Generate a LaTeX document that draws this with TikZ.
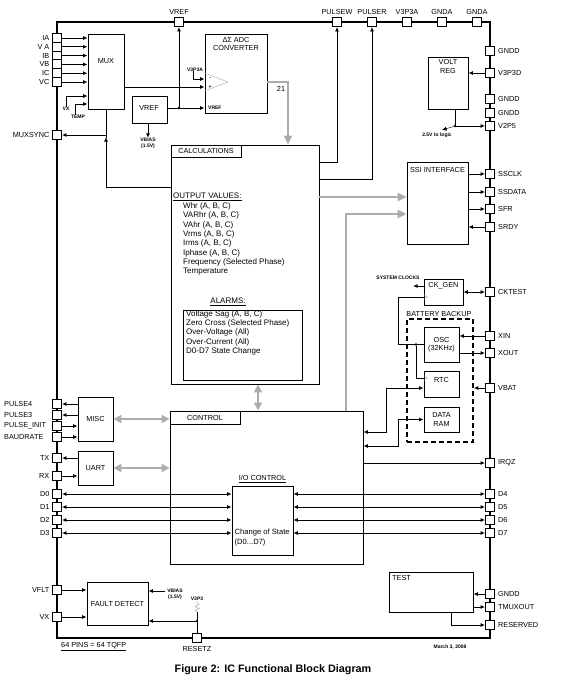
\documentclass[tikz,border=0pt]{standalone}
\usepackage{fontspec}
\setmainfont{Liberation Sans}
\usetikzlibrary{arrows.meta}

\tikzset{
  pinbox/.style={draw, fill=white, line width=0.9pt, inner sep=0pt, minimum size=9pt},
  plbl/.style={font=\fontsize{7.3}{8.5}\selectfont, inner sep=0pt},
  blk/.style={draw, line width=0.9pt, inner sep=0pt},
  btxt/.style={font=\fontsize{7.3}{8.5}\selectfont, inner sep=0pt, align=center},
  ctxt/.style={font=\fontsize{8}{9.3}\selectfont, inner sep=0pt, anchor=west},
  smalltxt/.style={font=\fontsize{5}{6.5}\selectfont\bfseries, inner sep=0pt, align=center},
  wire/.style={line width=0.9pt},
  sig/.style={line width=0.9pt, -{Latex[length=4.5pt,width=4pt]}},
  dbl/.style={line width=0.9pt, {Latex[length=4.5pt,width=4pt]}-{Latex[length=4.5pt,width=4pt]}},
  garrow/.style={draw=gray!65, line width=2.6pt, -{Triangle[length=9pt,width=8pt]}},
  gdbl/.style={draw=gray!65, line width=2.6pt, {Triangle[length=8pt,width=8pt]}-{Triangle[length=8pt,width=8pt]}},
  jdot/.style={circle, fill, inner sep=0pt, minimum size=2.6pt},
}

\begin{document}
\begin{tikzpicture}[x=1pt,y=-1pt]
\useasboundingbox (0,0) rectangle (571,680);

% chip outline and pins
\draw[line width=2.8pt] (57,22) rectangle (490,638);

\foreach \n/\t/\y in {IA/IA/38, VA/V A/46.8, IB/IB/55.6, VB/VB/64.4, IC/IC/73.2, VC/VC/82,
    MUXSYNC/MUXSYNC/135, TX/TX/458, RX/RX/476, D0/D0/494, D1/D1/507, D2/D2/520, D3/D3/533,
    VFLT/VFLT/590, VXp/VX/617}{
  \node[pinbox] (p\n) at (57,\y) {};
  \node[plbl, anchor=east] (t\n) at ([xshift=-2.5pt]p\n.west) {\t};
}
\foreach \n/\t/\y in {PULSE4/PULSE4/404, PULSE3/PULSE3/415, PULSEINIT/PULSE\_INIT/426, BAUDRATE/BAUDRATE/437}{
  \node[pinbox] (p\n) at (57,\y) {};
  \node[plbl, anchor=west] (t\n) at (4,\y) {\t};
}
\foreach \n/\t/\y in {GNDDa/GNDD/51, V3P3D/V3P3D/73, GNDDb/GNDD/99, GNDDc/GNDD/113, V2P5/V2P5/126,
    SSCLK/SSCLK/174, SSDATA/SSDATA/192, SFR/SFR/209, SRDY/SRDY/227, CKTEST/CKTEST/292,
    XIN/XIN/336, XOUT/XOUT/353, VBAT/VBAT/388, IRQZ/IRQZ/463, D4/D4/494, D5/D5/507,
    D6/D6/520, D7/D7/533, GNDDd/GNDD/594, TMUXOUT/TMUXOUT/607, RESERVED/RESERVED/625}{
  \node[pinbox] (p\n) at (490,\y) {};
  \node[plbl, anchor=west] (t\n) at ([xshift=3pt]p\n.east) {\t};
}
\foreach \n/\t/\x in {VREF/VREF/179, PULSEW/PULSEW/337, PULSER/PULSER/372, V3P3A/V3P3A/407,
    GNDAa/GNDA/442, GNDAb/GNDA/477}{
  \node[pinbox] (p\n) at (\x,22) {};
  \node[plbl, anchor=south] (t\n) at ([yshift=2pt]p\n.north) {\t};
}
\node[pinbox] (pRESETZ) at (197,638) {};
\node[plbl, anchor=north] (tRESETZ) at ([yshift=-3pt]pRESETZ.south) {RESETZ};

% mux, vref, adc
\node[blk, minimum width=36pt, minimum height=75pt] (mux) at (106,71.5) {};
\node[btxt] (tmux) at (106,61) {MUX};
\node[blk, minimum width=35pt, minimum height=27pt] (vref) at (149.5,109.5) {};
\node[btxt] (tvref) at (149,108) {VREF};
\node[blk, minimum width=62pt, minimum height=79pt] (adc) at (236,73.5) {};
\node[btxt] (tadc) at (236,44) {ΔΣ ADC\\CONVERTER};
\draw[gray!60, line width=0.5pt] (adc.west |- 0,73) -- (228,82) -- (adc.west |- 0,91);
\node[smalltxt] (tminus) at (210,79) {-};
\node[smalltxt] (tplus) at (210,87) {+};
\node[smalltxt, anchor=west] (tadcvref) at (208,108) {VREF};
\node[smalltxt] (tv3p3a) at (195,69.5) {V3P3A};

\foreach \n in {IA,VA,IB,VB,IC,VC}
  \draw[sig] (p\n.east) -- (mux.west |- p\n);
\node[smalltxt] (tVX) at (66,109) {VX};
\node[smalltxt] (tTEMP) at (78,117) {TEMP};
\draw[sig] (tVX.north) |- (mux.west |- 0,96);
\draw[sig] ([xshift=-3pt]tTEMP.north) |- (mux.west |- 0,104);
\draw[sig] (mux.east |- 0,87) -- (adc.west |- 0,87);
\draw[sig] ([xshift=-2pt]tv3p3a.south) |- (adc.west |- 0,79);
\node[jdot] (j1) at (pVREF |- 0,108) {};
\draw[sig] (vref.east |- 0,108) -- (adc.west |- 0,108);
\draw[sig] (j1) -- (pVREF.south);
\node[smalltxt] (tvbias) at (148,143.5) {VBIAS\\(1.5V)};
\draw[sig] (tvbias.north |- vref.south) -- (tvbias.north);

% calculations
\node[blk, minimum width=148pt, minimum height=239pt] (calc) at (245,264.5) {};
\node[blk, btxt, minimum width=70pt, minimum height=12pt, anchor=north west] (calctab) at (calc.north west) {CALCULATIONS};
\node[ctxt] (tov) at (173,197) {\underline{OUTPUT VALUES:}};
\foreach \t [count=\i] in {{Whr (A, B, C)}, {VARhr (A, B, C)}, {VAhr (A, B, C)}, {Vrms (A, B, C)},
    {Irms (A, B, C)}, {Iphase (A, B, C)}, {Frequency (Selected Phase)}, {Temperature}}
  \node[ctxt] (ov\i) at (183,197+9.35*\i) {\t};
\node[ctxt, anchor=center] (talarm) at (228,302) {\underline{ALARMS:}};
\node[blk, minimum width=119pt, minimum height=70pt] (alarm) at (242.5,345) {};
\foreach \t [count=\i] in {{Voltage Sag (A, B, C)}, {Zero Cross (Selected Phase)}, {Over-Voltage (All)},
    {Over-Current (All)}, {D0-D7 State Change}}
  \node[ctxt] (al\i) at (186,304.7+9.35*\i) {\t};

\draw[garrow] (adc.east |- 0,82) -| (calc.north -| 288,0);
\node[plbl] (t21) at (281,89) {21};
\coordinate (jm) at (mux.south |- 0,135);
\draw[sig] (calc.west |- 0,187) -| ([yshift=-2pt]jm);
\draw[wire] ([yshift=-2.5pt]jm) -- (mux.south);
\draw[sig] (jm) -- (pMUXSYNC.east);
\draw[sig] (calc.east |- 0,162) -| (pPULSEW.south);
\draw[sig] (calc.east |- 0,179) -| (pPULSER.south);

% volt reg
\node[blk, minimum width=40pt, minimum height=52pt] (vreg) at (448,83) {};
\node[btxt] (tvreg) at (448,66.5) {VOLT\\REG};
\draw[sig] (pV3P3D.west) -- (vreg.east |- pV3P3D);
\node[jdot] (j2) at (455,126) {};
\draw[sig] (vreg.south -| j2) |- (pV2P5.west);
\coordinate (logic25) at (442,130);
\draw[sig, line width=0.4pt] (j2) -- (logic25);
\node[smalltxt] (t25v) at (437,135) {2.5V to logic};

% ssi
\node[blk, minimum width=61pt, minimum height=82pt] (ssi) at (437.5,203) {};
\node[btxt] (tssi) at (437.5,170) {SSI INTERFACE};
\foreach \n in {SSCLK,SSDATA,SFR}
  \draw[sig] (ssi.east |- p\n) -- (p\n.west);
\draw[sig] (pSRDY.west) -- (ssi.east |- pSRDY);
\draw[garrow] (calc.east |- 0,197) -- (ssi.west |- 0,197);

% clocks and battery backup
\node[blk, minimum width=39pt, minimum height=26pt] (ckgen) at (443.5,292) {};
\node[btxt] (tckgen) at (443.5,286) {CK\_GEN};
\draw[dbl] (ckgen.east) -- (pCKTEST.west);
\coordinate (sysck) at (413,286);
\draw[sig] (ckgen.west |- sysck) -- (sysck);
\node[smalltxt] (tsysck) at (398,278) {SYSTEM CLOCKS};
\node[draw, line width=1.6pt, dash pattern=on 5pt off 3pt, inner sep=0pt, minimum width=66pt, minimum height=123pt] (batt) at (440,380.5) {};
\node[btxt, anchor=south west] (tbatt) at ([yshift=1.5pt]batt.north west) {BATTERY BACKUP};
\node[blk, btxt, minimum width=35pt, minimum height=35pt] (osc) at (441.5,344.5) {OSC\\(32KHz)};
\node[blk, minimum width=35pt, minimum height=26pt] (rtc) at (441.5,384) {};
\node[btxt] (trtc) at (441.5,380) {RTC};
\node[blk, btxt, minimum width=35pt, minimum height=25pt] (dram) at (441.5,419.5) {DATA\\RAM};
\draw[wire] (osc.west) -| (398,297) -- (ckgen.west |- 0,297);
\node[jdot] (j3) at (416,344.5) {};
\draw[wire] (j3) |- (rtc.west |- 0,378);
\draw[gray!60, line width=0.5pt] (ckgen.west |- 0,294.5) -- ++(4,2.5) -- ++(-4,2.5);
\draw[gray!60, line width=0.5pt] (rtc.west |- 0,375.5) -- ++(4,2.5) -- ++(-4,2.5);
\draw[sig] (pXIN.west) -- (osc.east |- pXIN);
\draw[sig] (osc.east |- pXOUT) -- (pXOUT.west);
\draw[sig] (pVBAT.west) -- (batt.east |- pVBAT);

% control
\node[blk, minimum width=193pt, minimum height=153pt] (control) at (266.5,487.5) {};
\node[blk, btxt, minimum width=70pt, minimum height=13pt, anchor=north west] (ctrltab) at (control.north west) {CONTROL};
\draw[gdbl] (calc.south -| 258,0) -- (control.north -| 258,0);
\draw[garrow] (control.north -| 346,0) |- (ssi.west |- 0,214);
\draw[dbl] (control.east |- 0,432) -| (386,388) -- (rtc.west |- 0,388);
\draw[dbl] (control.east |- 0,446) -| (398,419.5) -- (dram.west);
\draw[sig] (control.east |- pIRQZ) -- (pIRQZ.west);

\node[blk, minimum width=61pt, minimum height=69pt] (io) at (262.5,520.5) {};
\node[btxt, anchor=south] (tio) at ([yshift=2.5pt]io.north) {\underline{I/O CONTROL}};
\node[btxt, anchor=west, align=left, font=\fontsize{7.6}{10}\selectfont] (tcos) at (234.5,538) {Change of State\\(D0...D7)};
\foreach \n in {D0,D1,D2,D3}
  \draw[dbl] (p\n.east) -- (io.west |- p\n);
\foreach \n in {D4,D5,D6,D7}
  \draw[dbl] (io.east |- p\n) -- (p\n.west);

% misc, uart
\node[blk, btxt, minimum width=35pt, minimum height=44pt] (misc) at (95.5,419) {MISC};
\node[blk, btxt, minimum width=35pt, minimum height=34pt] (uart) at (95.5,468) {UART};
\draw[sig] (misc.west |- pPULSE4) -- (pPULSE4.east);
\draw[sig] (misc.west |- pPULSE3) -- (pPULSE3.east);
\draw[sig] (pPULSEINIT.east) -- (misc.west |- pPULSEINIT);
\draw[sig] (pBAUDRATE.east) -- (misc.west |- pBAUDRATE);
\draw[sig] (uart.west |- pTX) -- (pTX.east);
\draw[sig] (pRX.east) -- (uart.west |- pRX);
\draw[gdbl] (misc.east) -- (control.west |- misc.east);
\draw[gdbl] (uart.east) -- (control.west |- uart.east);

% fault detect
\node[blk, btxt, minimum width=61pt, minimum height=43pt] (fault) at (117.5,603.5) {FAULT DETECT};
\draw[sig] (pVFLT.east) -- (fault.west |- pVFLT);
\draw[sig] (pVXp.east) -- (fault.west |- pVXp);
\node[smalltxt] (tvbias2) at (175,594.5) {VBIAS\\(1.5V)};
\draw[sig] ([xshift=-2pt]tvbias2.west |- 0,591) -- (fault.east |- 0,591);
\node[smalltxt] (tv3p3) at (197,599) {V3P3};
\draw[gray!60, line width=0.5pt] (tv3p3.south) -- ++(0,2) -- ++(2,1.5) -- ++(-4,2) -- ++(4,2)
  -- ++(-4,2) -- ++(2,1.5) coordinate (rbot);
\node[jdot] (j5) at (197,621) {};
\draw[wire] (rbot) -- (pRESETZ.north);
\draw[sig] (j5) -- (fault.east |- j5);

% test
\node[blk, minimum width=84pt, minimum height=40pt] (test) at (431,592) {};
\node[btxt, anchor=west] (ttest) at (392,578) {TEST};
\draw[sig] (pGNDDd.west) -- (test.east |- pGNDDd);
\draw[sig] (test.east |- pTMUXOUT) -- (pTMUXOUT.west);
\draw[sig] (test.south -| 451,0) |- (pRESERVED.west);

% footer
\node[plbl, anchor=west] (tpins) at (61,647) {\underline{64 PINS = 64 TQFP}};
\node[smalltxt] (tdate) at (450,647) {March 3, 2008};
\node[font=\fontsize{10.8}{12}\selectfont\bfseries, inner sep=0pt] (caption) at (273,670) {Figure 2: IC Functional Block Diagram};

\end{tikzpicture}
\end{document}
